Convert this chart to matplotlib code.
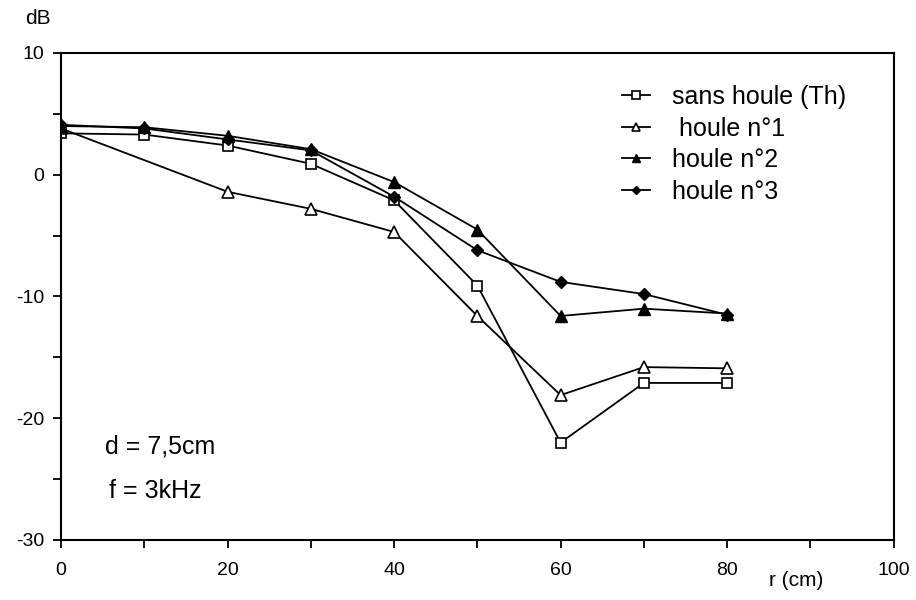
import matplotlib.pyplot as plt
from matplotlib.ticker import MultipleLocator

plt.rcParams['font.family'] = ['Liberation Sans', 'DejaVu Sans']
plt.rcParams['axes.unicode_minus'] = False

# --- data ---
r_th = [0, 10, 20, 30, 40, 50, 60, 70, 80]
db_th = [3.4, 3.3, 2.4, 0.9, -2.1, -9.1, -22.0, -17.1, -17.1]

r_h1 = [0, 20, 30, 40, 50, 60, 70, 80]
db_h1 = [3.8, -1.4, -2.8, -4.7, -11.6, -18.1, -15.8, -15.9]

r_h2 = [0, 10, 20, 30, 40, 50, 60, 70, 80]
db_h2 = [4.0, 3.9, 3.2, 2.1, -0.6, -4.5, -11.6, -11.0, -11.4]

r_h3 = [0, 10, 20, 30, 40, 50, 60, 70, 80]
db_h3 = [4.1, 3.8, 2.9, 2.0, -1.8, -6.2, -8.8, -9.8, -11.5]

labels = ["sans houle (Th)", " houle n°1", "houle n°2", "houle n°3"]

fig = plt.figure(figsize=(9.16, 6.0), dpi=100)
ax = fig.add_axes([0.0666, 0.1, 0.909, 0.8117])

lw = 1.3
ax.plot(r_th, db_th, color="black", lw=lw, marker="s", ms=7,
        mfc="white", mec="black", mew=1.2, label=labels[0])
ax.plot(r_h1, db_h1, color="black", lw=lw, marker="^", ms=8,
        mfc="white", mec="black", mew=1.2, label=labels[1])
ax.plot(r_h2, db_h2, color="black", lw=lw, marker="^", ms=8,
        mfc="black", mec="black", label=labels[2])
ax.plot(r_h3, db_h3, color="black", lw=lw, marker="D", ms=6,
        mfc="black", mec="black", label=labels[3])

ax.set_xlim(0, 100)
ax.set_ylim(-30, 10)
ax.xaxis.set_major_locator(MultipleLocator(20))
ax.xaxis.set_minor_locator(MultipleLocator(10))
ax.yaxis.set_major_locator(MultipleLocator(10))
ax.yaxis.set_minor_locator(MultipleLocator(5))
ax.tick_params(which="both", direction="out", length=6, width=1.3,
               labelsize=14, pad=6)
ax.tick_params(axis="x", which="both", pad=10)
for s in ax.spines.values():
    s.set_linewidth(1.5)

ax.legend(loc="upper right", bbox_to_anchor=(0.97, 0.98), frameon=False,
          fontsize=18, handlelength=1.1, labelspacing=0.3,
          handletextpad=0.9, markerscale=0.75)

ax.text(5.3, -22.3, "d = 7,5cm", fontsize=18, va="center")
ax.text(5.8, -26.0, "f = 3kHz", fontsize=18, va="center")

fig.text(0.027, 0.97, "dB", fontsize=15, va="center")
fig.text(0.84, 0.033, "r (cm)", fontsize=15, va="center")

fig.savefig("out.png", dpi=100)
